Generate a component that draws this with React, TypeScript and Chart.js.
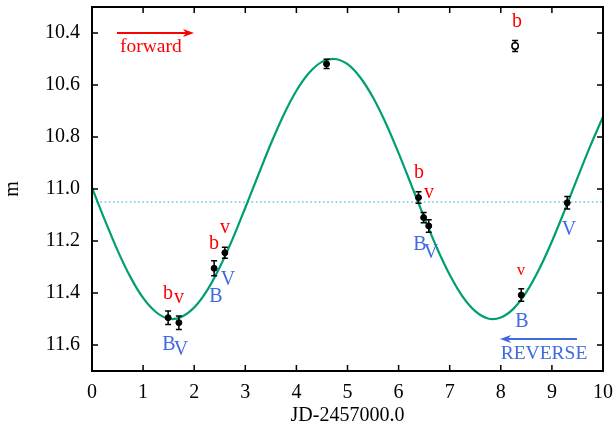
import React, { useEffect, useRef } from "react";
import { Chart, registerables } from "chart.js";

Chart.register(...registerables);

// Fitted light curve at 0.25-day steps
const curveX = [0, 0.25, 0.5, 0.75, 1, 1.25, 1.5, 1.75, 2, 2.25, 2.5, 2.75, 3, 3.25, 3.5, 3.75, 4, 4.25, 4.5, 4.75, 5,
  5.25, 5.5, 5.75, 6, 6.25, 6.5, 6.75, 7, 7.25, 7.5, 7.75, 8, 8.25, 8.5, 8.75, 9, 9.25, 9.5, 9.75, 10];
const curveM = [10.995, 11.119, 11.236, 11.338, 11.419, 11.473, 11.499, 11.492, 11.456, 11.391, 11.301, 11.193, 11.072,
  10.948, 10.826, 10.715, 10.622, 10.553, 10.511, 10.5, 10.52, 10.571, 10.648, 10.747, 10.862, 10.985, 11.109, 11.227,
  11.33, 11.413, 11.47, 11.498, 11.494, 11.46, 11.397, 11.309, 11.202, 11.082, 10.957, 10.835, 10.722];

// Observations (filled)
const obsX = [1.49, 1.70, 2.39, 2.60, 4.59, 6.39, 6.49, 6.59, 8.40, 9.30];
const obsM = [11.495, 11.514, 11.305, 11.245, 10.519, 11.033, 11.110, 11.142, 11.408, 11.053];
const obsErr = [0.026, 0.026, 0.029, 0.021, 0.018, 0.022, 0.020, 0.024, 0.024, 0.024];

// Observation (open)
const openX = [8.28];
const openM = [10.45];
const openErr = [0.021];

// Mean level
const meanLevel = 11.05;

// Axis ticks
const xTicks = [0, 1, 2, 3, 4, 5, 6, 7, 8, 9, 10];
const yTicks = [10.4, 10.6, 10.8, 11.0, 11.2, 11.4, 11.6];

const RED = "#ff0000";
const BLUE = "#4169e1";
const FONT = "'Liberation Serif', 'DejaVu Serif', serif";

// Text annotations in data coordinates (x centre / baseline)
const notes = [
  { t: "b", x: 1.487, y: 11.423, c: RED, s: 20 },
  { t: "v", x: 1.703, y: 11.438, c: RED, s: 20 },
  { t: "B", x: 1.507, y: 11.619, c: BLUE, s: 20 },
  { t: "V", x: 1.742, y: 11.638, c: BLUE, s: 20 },
  { t: "v", x: 2.603, y: 11.169, c: RED, s: 20 },
  { t: "b", x: 2.387, y: 11.231, c: RED, s: 20 },
  { t: "V", x: 2.661, y: 11.369, c: BLUE, s: 20 },
  { t: "B", x: 2.427, y: 11.435, c: BLUE, s: 20 },
  { t: "b", x: 6.399, y: 10.958, c: RED, s: 20 },
  { t: "v", x: 6.595, y: 11.035, c: RED, s: 20 },
  { t: "B", x: 6.419, y: 11.235, c: BLUE, s: 20 },
  { t: "V", x: 6.634, y: 11.265, c: BLUE, s: 20 },
  { t: "b", x: 8.317, y: 10.377, c: RED, s: 20 },
  { t: "v", x: 8.395, y: 11.331, c: RED, s: 17 },
  { t: "B", x: 8.415, y: 11.531, c: BLUE, s: 20 },
  { t: "V", x: 9.335, y: 11.177, c: BLUE, s: 20 },
];
const labels = [
  { t: "forward", x: 0.548, y: 10.473, c: RED, s: 19.5 },
  { t: "REVERSE", x: 7.998, y: 11.654, c: BLUE, s: 19.5 },
];
const arrows = [
  { x0: 0.489, x1: 1.996, y: 10.4, c: RED },
  { x0: 9.491, x1: 7.984, y: 11.577, c: BLUE },
];

const errPlugin = {
  id: "errbars",
  beforeDatasetDraw(chart: any, args: any) {
    const ds = chart.data.datasets[args.index];
    if (!ds.errs) return;
    const ctx = chart.ctx;
    const xs = chart.scales.x;
    const ys = chart.scales.y;
    ctx.save();
    ctx.strokeStyle = "#000";
    ctx.lineWidth = 1.5;
    ds.data.forEach((p: any, i: number) => {
      const px = xs.getPixelForValue(p.x);
      const y0 = ys.getPixelForValue(p.y - ds.errs[i]);
      const y1 = ys.getPixelForValue(p.y + ds.errs[i]);
      ctx.beginPath();
      ctx.moveTo(px, y0);
      ctx.lineTo(px, y1);
      ctx.moveTo(px - 3, y0);
      ctx.lineTo(px + 3, y0);
      ctx.moveTo(px - 3, y1);
      ctx.lineTo(px + 3, y1);
      ctx.stroke();
    });
    ctx.restore();
  },
};

const framePlugin = {
  id: "frame",
  afterDraw(chart: any) {
    const ctx = chart.ctx;
    const { left, right, top, bottom } = chart.chartArea;
    const xs = chart.scales.x;
    const ys = chart.scales.y;
    ctx.save();
    // annotations
    ctx.textAlign = "center";
    ctx.textBaseline = "alphabetic";
    notes.forEach((n) => {
      ctx.fillStyle = n.c;
      ctx.font = `${n.s}px ${FONT}`;
      ctx.fillText(n.t, xs.getPixelForValue(n.x), ys.getPixelForValue(n.y));
    });
    ctx.textAlign = "left";
    labels.forEach((n) => {
      ctx.fillStyle = n.c;
      ctx.font = `${n.s}px ${FONT}`;
      ctx.fillText(n.t, xs.getPixelForValue(n.x), ys.getPixelForValue(n.y));
    });
    arrows.forEach((a) => {
      const x0 = xs.getPixelForValue(a.x0);
      const x1 = xs.getPixelForValue(a.x1);
      const py = ys.getPixelForValue(a.y);
      const dir = Math.sign(x1 - x0);
      ctx.strokeStyle = a.c;
      ctx.fillStyle = a.c;
      ctx.lineWidth = 2;
      ctx.beginPath();
      ctx.moveTo(x0, py);
      ctx.lineTo(x1 - dir * 6, py);
      ctx.stroke();
      ctx.beginPath();
      ctx.moveTo(x1, py);
      ctx.lineTo(x1 - dir * 11, py - 4);
      ctx.lineTo(x1 - dir * 8, py);
      ctx.lineTo(x1 - dir * 11, py + 4);
      ctx.closePath();
      ctx.fill();
    });
    // frame + inward ticks
    ctx.strokeStyle = "#000";
    ctx.lineWidth = 1.5;
    ctx.beginPath();
    xTicks.forEach((v) => {
      const px = xs.getPixelForValue(v);
      ctx.moveTo(px, bottom);
      ctx.lineTo(px, bottom - 6);
      ctx.moveTo(px, top);
      ctx.lineTo(px, top + 6);
    });
    yTicks.forEach((v) => {
      const py = ys.getPixelForValue(v);
      ctx.moveTo(left, py);
      ctx.lineTo(left + 6, py);
      ctx.moveTo(right, py);
      ctx.lineTo(right - 6, py);
    });
    ctx.stroke();
    ctx.lineWidth = 2;
    ctx.strokeRect(left, top, right - left, bottom - top);
    ctx.restore();
  },
};

const zeroPad = (s: any) => {
  s.paddingTop = 0;
  s.paddingBottom = 0;
  s.paddingLeft = 0;
  s.paddingRight = 0;
};

export default function App() {
  const ref = useRef<HTMLCanvasElement>(null);
  useEffect(() => {
    if (!ref.current) return;
    Chart.defaults.font.family = FONT;
    Chart.defaults.color = "#000";
    const chart = new Chart(ref.current, {
      type: "scatter",
      data: {
        datasets: [
          {
            data: obsX.map((x, i) => ({ x, y: obsM[i] })),
            errs: obsErr,
            pointRadius: 3,
            pointBackgroundColor: "#000",
            pointBorderColor: "#000",
            pointBorderWidth: 1,
          } as any,
          {
            data: openX.map((x, i) => ({ x, y: openM[i] })),
            errs: openErr,
            pointRadius: 3.2,
            pointBackgroundColor: "#fff",
            pointBorderColor: "#000",
            pointBorderWidth: 1.5,
          } as any,
          {
            type: "line",
            data: curveX.map((x, i) => ({ x, y: curveM[i] })),
            borderColor: "#009e73",
            borderWidth: 2.2,
            pointRadius: 0,
            tension: 0.3,
            fill: false,
          } as any,
          {
            type: "line",
            data: [
              { x: 0, y: meanLevel },
              { x: 10, y: meanLevel },
            ],
            borderColor: "#6cc4f0",
            borderWidth: 1.6,
            borderDash: [1.6, 2.6],
            pointRadius: 0,
            fill: false,
          } as any,
        ],
      },
      options: {
        animation: false,
        responsive: false,
        maintainAspectRatio: false,
        layout: { padding: { left: 0, right: 13, top: 7, bottom: 0 } },
        plugins: { legend: { display: false }, tooltip: { enabled: false } },
        scales: {
          x: {
            type: "linear",
            min: 0,
            max: 10,
            afterBuildTicks: (s: any) => {
              s.ticks = xTicks.map((v) => ({ value: v }));
            },
            afterFit: (s: any) => {
              s.height = 59;
              zeroPad(s);
            },
            ticks: {
              font: { size: 20 },
              color: "#000",
              padding: 10,
              maxRotation: 0,
              callback: (v: any) => String(v),
            },
            grid: { display: false, drawTicks: false },
            border: { display: false },
            title: {
              display: true,
              text: "JD-2457000.0",
              font: { size: 20 },
              color: "#000",
              padding: { top: 0, bottom: 2 },
            },
          },
          y: {
            type: "linear",
            reverse: true,
            min: 10.3,
            max: 11.7,
            afterBuildTicks: (s: any) => {
              s.ticks = yTicks.map((v) => ({ value: v }));
            },
            afterFit: (s: any) => {
              s.width = 92;
              zeroPad(s);
            },
            ticks: {
              font: { size: 20 },
              color: "#000",
              padding: 12,
              callback: (v: any) => Number(v).toFixed(1),
            },
            grid: { display: false, drawTicks: false },
            border: { display: false },
            title: {
              display: true,
              text: "m",
              font: { size: 20 },
              color: "#000",
              padding: { top: 1, bottom: 0 },
            },
          },
        },
      } as any,
      plugins: [errPlugin, framePlugin],
    });
    return () => chart.destroy();
  }, []);
  return (
    <div style={{ position: "fixed", left: 0, top: 0, width: 616, height: 430, background: "#fff" }}>
      <canvas ref={ref} width={616} height={430} style={{ width: 616, height: 430, display: "block" }} />
    </div>
  );
}
